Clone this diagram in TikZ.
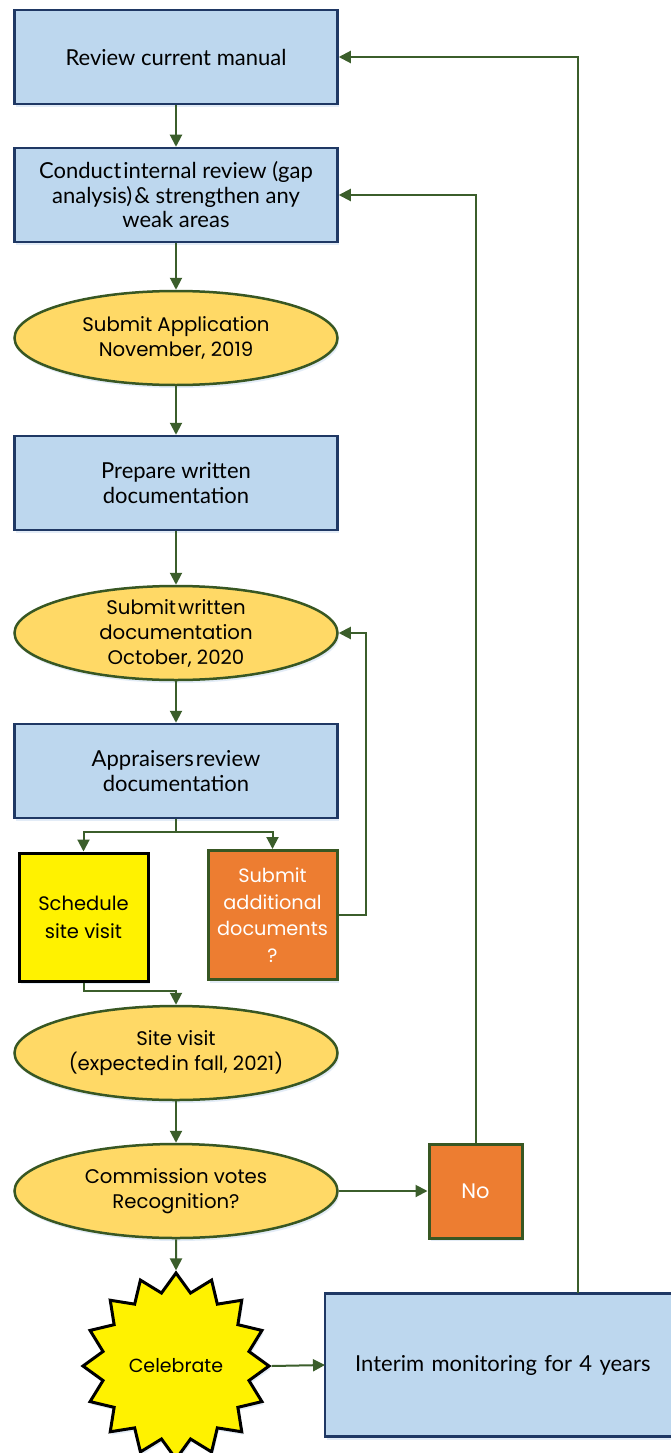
\documentclass[tikz,border=0pt]{standalone}
\usepackage{fontspec}
\setmainfont{Lato}
\newfontfamily\pop{Poppins}
\usetikzlibrary{shapes.geometric,arrows.meta,shadows}
\definecolor{bluefill}{HTML}{BDD7EE}
\definecolor{blueline}{HTML}{1F3864}
\definecolor{yellowfill}{HTML}{FFD966}
\definecolor{greenline}{HTML}{385723}
\definecolor{orangefill}{HTML}{ED7D31}
\definecolor{conncol}{HTML}{3B5E2B}
\definecolor{shadowcol}{HTML}{DCE8F5}
\begin{document}
\begin{tikzpicture}[x=1pt,y=-1pt,
  shad/.style={drop shadow={shadow xshift=1.5pt, shadow yshift=-3pt, fill=shadowcol, opacity=0.8}},
  bluebox/.style={shad, draw=blueline, fill=bluefill, line width=2.5pt, minimum width=323pt, minimum height=94pt, align=center, inner sep=0pt, font=\fontsize{22}{24.5}\selectfont},
  ellip/.style={shad, ellipse, draw=greenline, fill=yellowfill, line width=2.5pt, minimum width=323pt, minimum height=94pt, align=center, inner xsep=0pt, inner ysep=-14pt, font=\pop\fontsize{19.7}{25}\selectfont},
  orangebox/.style={shad, draw=greenline, fill=orangefill, line width=3pt, text=white, align=center, inner sep=0pt, font=\pop\fontsize{19.3}{26.5}\selectfont},
  conn/.style={draw=conncol, line width=2pt, -{Triangle[length=12pt,width=12pt]}}]
\useasboundingbox (0,0) rectangle (671,1453);
\begin{pgfinterruptboundingbox}
\fill[white] (-10,-10) rectangle (690,1470);
\end{pgfinterruptboundingbox}
% nodes
\node[bluebox] (b1) at (176,57) {Review current manual};
\node[bluebox] (b2) at (176,195) {Conduct\hspace{2pt}internal review (gap\\analysis)\hspace{2pt}\& strengthen any\\weak areas};
\node[ellip] (e1) at (176,338) {Submit Application\\November, 2019};
\node[bluebox] (b3) at (176,483) {Prepare written\\documentation};
\node[ellip] (e2) at (176,633) {Submit\hspace{2pt}written\\documentation\\October, 2020};
\node[bluebox] (b4) at (176,771) {Appraisers\hspace{2pt}review\\documentation};
\node[shad, draw=black, fill=yellow, line width=3pt, minimum width=129pt, minimum height=128pt, align=center, inner sep=0pt, font=\pop\fontsize{19.5}{28}\selectfont] (sched) at (83.5,917) {Schedule\\site visit};
\node[orangebox, minimum width=129pt, minimum height=129pt] (subm) at (272.5,915) {Submit\\additional\\documents\\?};
\node[ellip] (e3) at (176,1053) {Site visit\\(expected\hspace{2pt}in fall, 2021)};
\node[ellip] (e4) at (176,1191) {Commission votes\\Recognition?};
\node[orangebox, minimum width=93pt, minimum height=94pt, font=\pop\fontsize{21}{26}\selectfont] (no) at (475.5,1191) {No};
\node[shad, star, star points=16, star point ratio=1.25, minimum size=186pt, fill=yellow, draw=black, line width=3pt, inner sep=0pt, font=\pop\fontsize{19}{20}\selectfont] (star) at (176,1366) {Celebrate};
\begin{pgfinterruptboundingbox}
\node[shad, fill=bluefill, anchor=west, minimum height=143pt, text width=420pt, inner xsep=30pt, align=left, font=\fontsize{22}{24}\selectfont] (mon) at (325,1365) {Interim monitoring for 4 years};
\draw[blueline, line width=2.5pt] (mon.north east) -- (mon.north west) -- (mon.south west) -- (mon.south east);
\end{pgfinterruptboundingbox}
% connectors
\draw[conn] (b1) -- (b2);
\draw[conn] (b2) -- (e1);
\draw[conn] (e1) -- (b3);
\draw[conn] (b3) -- (e2);
\draw[conn] (e2) -- (b4);
\draw[conn] (b4.south) -- ++(0,13) -| (sched.north);
\draw[conn] (b4.south) -- ++(0,13) -| (subm.north);
\draw[conn] (subm.east) -- ++(27,0) |- (e2.east);
\draw[conn] (sched.south) -- ++(0,8) -| (e3.north);
\draw[conn] (e3) -- (e4);
\draw[conn] (e4) -- (no);
\draw[conn] (e4.south) -- (star.north);
\draw[conn] (star.east) -- (mon.west);
\draw[conn] (no.north) |- (b2.east);
\draw[conn] ([xshift=253pt]mon.north west) |- (b1.east);
\end{tikzpicture}
\end{document}
